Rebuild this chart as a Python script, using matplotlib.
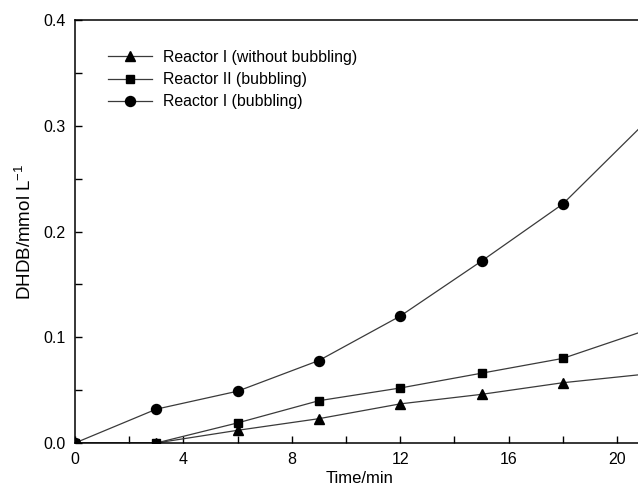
import matplotlib
matplotlib.use("Agg")
import matplotlib.pyplot as plt
from matplotlib.ticker import MultipleLocator

plt.rcParams['font.family'] = ['Liberation Sans', 'DejaVu Sans']

time = [0, 3, 6, 9, 12, 15, 18, 21]
r1_no_bubbling = [0.0, 0.0, 0.012, 0.023, 0.037, 0.046, 0.057, 0.065]
r2_bubbling = [0.0, 0.0, 0.019, 0.040, 0.052, 0.066, 0.080, 0.106]
r1_bubbling = [0.0, 0.032, 0.049, 0.078, 0.120, 0.172, 0.226, 0.302]

labels = ["Reactor I (without bubbling)", "Reactor II (bubbling)", "Reactor I (bubbling)"]
x_ticks = [0, 4, 8, 12, 16, 20]
y_ticks = [0.0, 0.1, 0.2, 0.3, 0.4]

W, H = 638, 491
fig = plt.figure(figsize=(W / 100, H / 100), dpi=100)
px_per_unit = 27.1
left_px, bottom_px, top_px = 75, 443, 20
xmax = 21
ax = fig.add_axes([left_px / W, (H - bottom_px) / H,
                   xmax * px_per_unit / W, (bottom_px - top_px) / H])

lc = '#3a3a3a'
ax.plot(time, r1_no_bubbling, color=lc, lw=0.9, marker='^', ms=7.5,
        mfc='black', mec='black', label=labels[0])
ax.plot(time, r2_bubbling, color=lc, lw=0.9, marker='s', ms=6.3,
        mfc='black', mec='black', label=labels[1])
ax.plot(time, r1_bubbling, color=lc, lw=0.9, marker='o', ms=7.2,
        mfc='black', mec='black', label=labels[2])

ax.set_xlim(0, xmax)
ax.set_ylim(0, 0.4)
ax.set_xticks(x_ticks)
ax.set_yticks(y_ticks)
ax.set_yticklabels([f"{v:.1f}" for v in y_ticks])
ax.xaxis.set_minor_locator(MultipleLocator(2))
ax.yaxis.set_minor_locator(MultipleLocator(0.05))
ax.tick_params(which='both', direction='in', length=5, width=1.0,
               labelsize=11.5, top=False, right=False, color='black')
ax.tick_params(axis='x', pad=6.5)
ax.tick_params(axis='y', pad=7)
for s in ['left', 'bottom', 'top']:
    ax.spines[s].set_linewidth(1.1)
ax.spines['right'].set_visible(False)

ax.set_xlabel("Time/min", fontsize=12, labelpad=3)
ax.set_ylabel("DHDB/mmol L$^{\\mathregular{-1}}$", fontsize=13.5, labelpad=6)

leg = ax.legend(loc='upper left', bbox_to_anchor=(33 / (xmax * px_per_unit), 0.929),
                frameon=False, fontsize=11.4, handlelength=2.8, handletextpad=0.7,
                labelspacing=0.45, borderpad=0, borderaxespad=0)

fig.savefig("out.png", dpi=100)
